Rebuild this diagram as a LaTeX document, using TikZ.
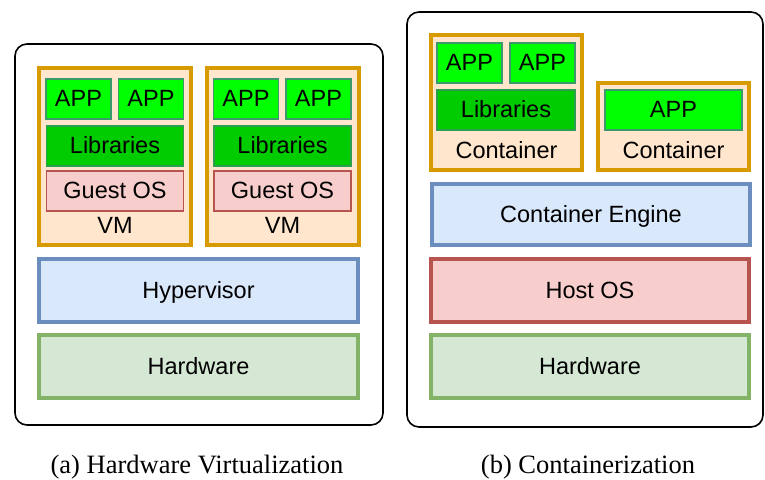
\documentclass[tikz,border=0pt]{standalone}
\usepackage{fontspec}
\setmainfont{Liberation Serif}
\setsansfont{Liberation Sans}
\usepackage{xcolor}
\definecolor{shellfill}{HTML}{FFE6CC}
\definecolor{shelldraw}{HTML}{D79B00}
\definecolor{appfill}{HTML}{00FF00}
\definecolor{appdraw}{HTML}{3A9A6A}
\definecolor{libfill}{HTML}{00CC00}
\definecolor{libdraw}{HTML}{2D9E4F}
\definecolor{osfill}{HTML}{F8CECC}
\definecolor{osdraw}{HTML}{B85450}
\definecolor{hvfill}{HTML}{DAE8FC}
\definecolor{hvdraw}{HTML}{6C8EBF}
\definecolor{hwfill}{HTML}{D5E8D4}
\definecolor{hwdraw}{HTML}{82B366}

\begin{document}
\begin{tikzpicture}[x=1pt,y=-1pt,
                    box/.style={draw,inner sep=0pt,text height=17.5pt,text depth=2pt,font=\sffamily\fontsize{23.5}{27}\selectfont},
                    shell/.style={box,fill=shellfill,draw=shelldraw,line width=4pt},
                    app/.style={box,fill=appfill,draw=appdraw,line width=1.2pt,minimum width=65pt,minimum height=40pt},
                    lib/.style={box,fill=libfill,draw=libdraw,line width=1.2pt,minimum width=137pt,minimum height=40pt},
                    guest/.style={box,fill=osfill,draw=osdraw,line width=1.2pt,minimum width=137pt,minimum height=40pt},
                    layer/.style={box,line width=4pt,minimum width=319pt,minimum height=63pt},
                    tag/.style={font=\sffamily\fontsize{23.5}{27}\selectfont,text height=17.5pt,text depth=2pt,inner sep=0pt},
                    panel/.style={draw,line width=1.6pt,rounded corners=12pt},
                    caption/.style={font=\fontsize{26.5}{30}\selectfont,inner sep=0pt}]
    \useasboundingbox (0,0) rectangle (765,479);

    % (a) hardware virtualization
    \node[panel,minimum width=368pt,minimum height=381pt] (panelA) at (199,234.5) {};
    \foreach \v/\cx in {A/115,B/282.5}{
        \node[shell,minimum width=152pt,minimum height=177pt] (vm\v) at (\cx,156.5) {};
        \node[app] (app\v1) at (\cx-36.5,99) {APP};
        \node[app] (app\v2) at (\cx+36,99) {APP};
        \node[lib] (lib\v) at (\cx,146) {Libraries};
        \node[guest] (guest\v) at (\cx,191) {Guest OS};
        \node[tag] (vmtag\v) at (\cx,226) {VM};
    }
    \node[layer,fill=hvfill,draw=hvdraw] (hyper) at (198.5,290.5) {Hypervisor};
    \node[layer,fill=hwfill,draw=hwdraw] (hwA) at (198.5,366.5) {Hardware};
    \node[caption] (capA) at (197,467) {(a) Hardware Virtualization};

    % (b) containerization
    \node[panel,minimum width=356pt,minimum height=415pt] (panelB) at (585,219.5) {};
    \node[shell,minimum width=151pt,minimum height=135pt] (ctA) at (506.5,102.5) {};
    \node[app] (appC1) at (469.5,63) {APP};
    \node[app] (appC2) at (542.5,63) {APP};
    \node[lib,minimum width=138pt] (libC) at (506,110) {Libraries};
    \node[tag] (cttagA) at (506.5,150.5) {Container};
    \node[shell,minimum width=151pt,minimum height=87pt] (ctB) at (673.5,126.5) {};
    \node[app,minimum width=137pt] (appD) at (673.5,110) {APP};
    \node[tag] (cttagB) at (673.5,150.5) {Container};
    \node[layer,minimum width=318pt,minimum height=61pt,fill=hvfill,draw=hvdraw] (engine) at (591,214.5) {Container Engine};
    \node[layer,minimum width=318pt,fill=osfill,draw=osdraw] (host) at (590,290.5) {Host OS};
    \node[layer,minimum width=318pt,fill=hwfill,draw=hwdraw] (hwB) at (590,366.5) {Hardware};
    \node[caption] (capB) at (588,467) {(b) Containerization};
\end{tikzpicture}
\end{document}
